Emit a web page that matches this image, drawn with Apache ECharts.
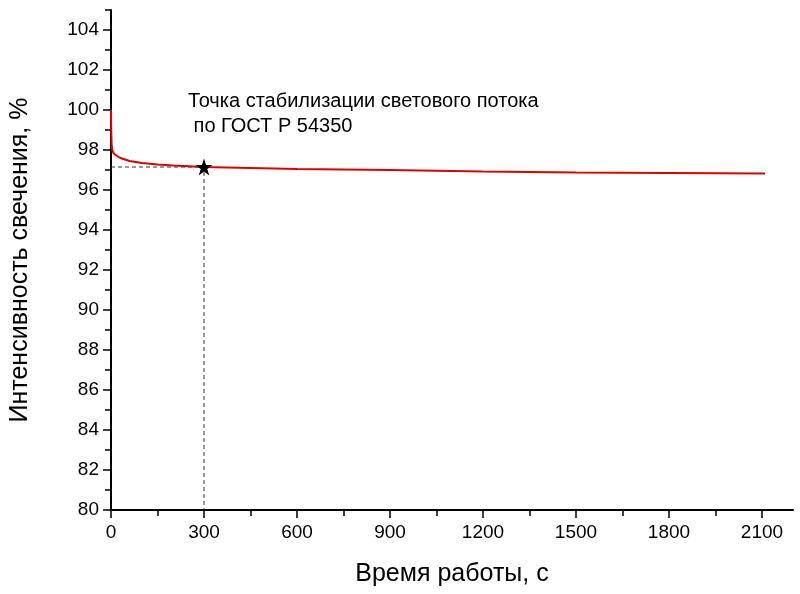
<!DOCTYPE html>
<html>
<head>
<meta charset="utf-8">
<script src="https://cdn.jsdelivr.net/npm/echarts@6/dist/echarts.min.js"></script>
<style>
  html, body { margin: 0; padding: 0; background: #fff; }
  #main { width: 800px; height: 594px; }
</style>
</head>
<body>
<div id="main"></div>
<script>
// время работы, с и интенсивность свечения, %
var timeSec = [0, 0.5, 1, 2, 4, 8, 15, 30, 60, 100, 150, 200, 300, 450, 600, 900, 1200, 1500, 1800, 2110];
var intensity = [100, 99.3, 98.8, 98.3, 98.0, 97.85, 97.75, 97.6, 97.45, 97.35, 97.28, 97.22, 97.15, 97.1, 97.05, 97.0, 96.93, 96.88, 96.85, 96.82];

// точка стабилизации
var stabPoint = [300, 97.15];

var xMajor = [0, 300, 600, 900, 1200, 1500, 1800, 2100];
var xMinor = [150, 450, 750, 1050, 1350, 1650, 1950];
var yMajor = [80, 82, 84, 86, 88, 90, 92, 94, 96, 98, 100, 102, 104];
var yMinor = [81, 83, 85, 87, 89, 91, 93, 95, 97, 99, 101, 103, 105];

var font = "'Liberation Sans', Arial, sans-serif";
var star = 'path://M12,0 L14.9,8.5 L24,8.5 L16.6,13.9 L19.4,22.5 L12,17.2 L4.6,22.5 L7.4,13.9 L0,8.5 L9.1,8.5 Z';

var myChart = echarts.init(document.getElementById('main'));

function plain(v) { return String(v); }

function xAxisOf(ticks, len, main) {
  return {
    type: 'value', min: 0, max: 2200, position: 'bottom',
    axisLine: { show: main, onZero: false, lineStyle: { color: '#000', width: 2 } },
    axisTick: { show: true, customValues: ticks, length: len, inside: false, lineStyle: { color: '#000', width: 1.5 } },
    axisLabel: main ? { customValues: ticks, formatter: plain, color: '#000', fontSize: 19, fontFamily: font, margin: 13 } : { show: false },
    splitLine: { show: false },
    name: main ? 'Время работы, с' : '',
    nameLocation: 'middle', nameGap: 52,
    nameTextStyle: { color: '#000', fontSize: 25, fontFamily: font }
  };
}
function yAxisOf(ticks, len, main) {
  return {
    type: 'value', min: 80, max: 105, position: 'left',
    axisLine: { show: main, onZero: false, lineStyle: { color: '#000', width: 2 } },
    axisTick: { show: true, customValues: ticks, length: len, inside: false, lineStyle: { color: '#000', width: 1.5 } },
    axisLabel: main ? { customValues: ticks, formatter: plain, color: '#000', fontSize: 19, fontFamily: font, margin: 12 } : { show: false },
    splitLine: { show: false },
    name: main ? 'Интенсивность свечения, %' : '',
    nameLocation: 'middle', nameGap: 78,
    nameTextStyle: { color: '#000', fontSize: 25, fontFamily: font }
  };
}

myChart.setOption({
  animation: false,
  backgroundColor: '#fff',
  grid: { left: 110, right: 7, top: 10, bottom: 84, containLabel: false },
  xAxis: [xAxisOf(xMajor, 8, true), xAxisOf(xMinor, 6, false)],
  yAxis: [yAxisOf(yMajor, 8, true), yAxisOf(yMinor, 6, false)],
  graphic: [{
    type: 'text', left: 188, top: 89,
    style: {
      text: 'Точка стабилизации светового потока\n по ГОСТ Р 54350',
      font: '20px ' + font, fill: '#000', lineHeight: 25
    }
  }],
  series: [
    {
      type: 'line',
      data: [[0, stabPoint[1]], stabPoint, [stabPoint[0], 80]],
      symbol: 'none',
      lineStyle: { color: '#333', width: 1, type: [4, 3] },
      z: 1
    },
    {
      type: 'line',
      data: timeSec.map(function (t, i) { return [t, intensity[i]]; }),
      symbol: 'none',
      lineStyle: { color: '#e00000', width: 2 },
      z: 2
    },
    {
      type: 'scatter',
      data: [stabPoint],
      symbol: star,
      symbolSize: 17,
      itemStyle: { color: '#000', opacity: 1 },
      z: 3
    }
  ]
});
</script>
</body>
</html>
